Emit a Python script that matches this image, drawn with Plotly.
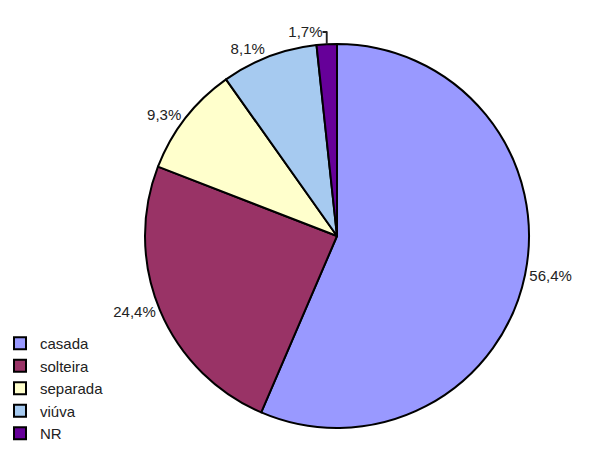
import plotly.graph_objects as go

categories = ["casada", "solteira", "separada", "viúva", "NR"]
values = [56.4, 24.4, 9.3, 8.1, 1.7]
value_labels = ["56,4%", "24,4%", "9,3%", "8,1%", "1,7%"]
colors = ["#9999FF", "#993366", "#FFFFCC", "#A6CAF0", "#660099"]

W, H = 601, 450
cx, cy, r = 337, 236, 192

fig = go.Figure(go.Pie(
    labels=categories,
    values=values,
    text=value_labels,
    texttemplate="%{text}",
    textposition="outside",
    textfont=dict(family="Liberation Sans, Arial, sans-serif", size=15, color="#222222"),
    marker=dict(colors=colors, line=dict(color="#000000", width=2)),
    sort=False,
    direction="clockwise",
    rotation=0,
    hole=0,
    domain=dict(x=[(cx - r) / W, (cx + r) / W], y=[(H - cy - r) / H, (H - cy + r) / H]),
))

fig.update_layout(
    width=W, height=H,
    margin=dict(l=0, r=0, t=0, b=0),
    paper_bgcolor="white",
    plot_bgcolor="white",
    showlegend=True,
    legend=dict(
        x=0.0, y=0.0, xanchor="left", yanchor="bottom",
        font=dict(family="Liberation Sans, Arial, sans-serif", size=15, color="#222222"),
        bgcolor="rgba(0,0,0,0)",
        itemwidth=30,
        tracegroupgap=0,
    ),
)

fig.write_html("out.html")
